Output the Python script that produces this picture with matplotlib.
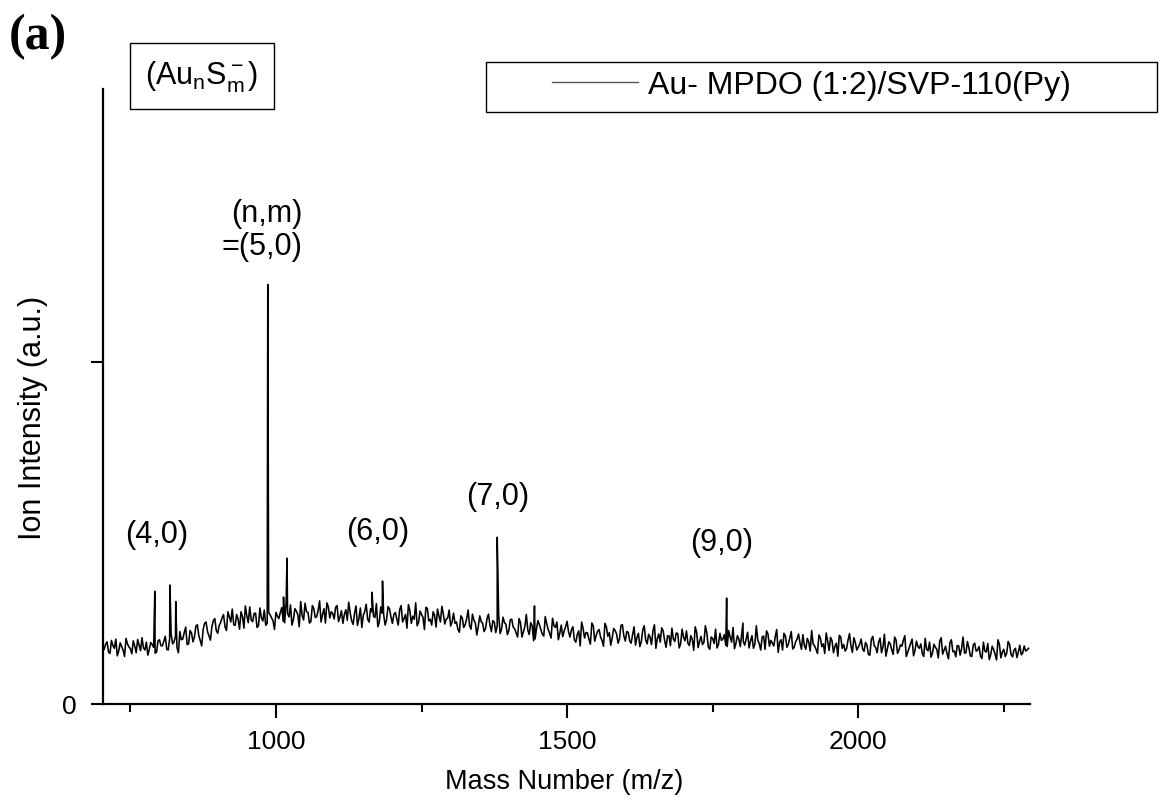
import numpy as np
import matplotlib
matplotlib.use("Agg")
import matplotlib.pyplot as plt
from matplotlib.patches import Rectangle

# spectrum, two sample grids (every 5 m/z, offset by 2.5)
grid_a_start, grid_b_start, grid_step = 705, 707.5, 5
intens_a = [
    160, 182, 148, 171, 190, 155, 168, 139, 176, 162, 185, 150, 172, 194, 158, 143, 180, 166, 152, 188,
    170, 198, 158, 205, 182, 165, 212, 190, 225, 176, 208, 196, 232, 185, 218, 240, 199, 226, 250, 207,
    238, 262, 215, 255, 278, 230, 248, 270, 222, 258, 284, 241, 266, 229, 252, 275, 236, 261, 244, 268,
    250, 282, 238, 265, 290, 247, 272, 226, 259, 295, 268, 241, 280, 256, 302, 262, 237, 284, 270, 249,
    288, 255, 236, 276, 298, 244, 265, 230, 281, 259, 292, 240, 270, 253, 226, 284, 262, 247, 279, 236,
    268, 231, 288, 250, 222, 274, 257, 296, 239, 262, 218, 280, 248, 270, 225, 257, 286, 234, 251, 228,
    266, 240, 210, 252, 232, 275, 219, 245, 202, 258, 236, 221, 263, 212, 240, 229, 206, 254, 233, 215,
    248, 220, 196, 238, 211, 262, 203, 229, 190, 244, 218, 199, 235, 207, 251, 224, 188, 231, 214, 242,
    196, 226, 181, 214, 240, 193, 208, 175, 229, 201, 218, 186, 236, 198, 172, 221, 205, 190, 232, 184,
    210, 178, 226, 195, 168, 217, 187, 204, 174, 232, 192, 181, 214, 166, 199, 222, 183, 206, 176, 196,
    214, 171, 189, 226, 165, 198, 180, 208, 160, 192, 219, 175, 186, 203, 168, 196, 224, 178, 190, 208,
    172, 210, 184, 163, 229, 177, 196, 160, 205, 186, 170, 218, 181, 158, 199, 175, 212, 166, 190, 179,
    203, 160, 182, 215, 170, 148, 193, 176, 208, 157, 185, 169, 140, 196, 174, 162, 206, 151, 180, 166,
    190, 154, 172, 143, 198, 165, 181, 150, 204, 161, 176, 145, 187, 158, 169, 200, 152, 177, 141, 184,
    163, 148, 192, 156, 137, 175, 160, 184, 146, 169, 132, 188, 155, 171, 143, 196, 150, 165, 139, 178,
    157, 140, 181, 152, 130, 169, 146, 188, 135, 160, 149, 174, 138, 163, 152, 144, 170, 158,
]
intens_b = [
    175, 152, 186, 163, 141, 179, 158, 192, 167, 147, 170, 189, 156, 164, 181, 160, 174, 149, 185, 171,
    184, 160, 192, 176, 198, 150, 188, 209, 174, 215, 182, 228, 201, 170, 236, 212, 187, 244, 215, 230,
    252, 226, 270, 240, 232, 262, 219, 256, 287, 238, 246, 265, 224, 281, 243, 230, 268, 252, 218, 257,
    268, 242, 296, 255, 231, 279, 262, 300, 246, 270, 237, 288, 253, 274, 240, 279, 296, 252, 265, 283,
    241, 273, 262, 245, 267, 233, 287, 250, 224, 271, 248, 279, 257, 294, 240, 266, 231, 285, 255, 262,
    249, 276, 240, 262, 291, 236, 248, 229, 272, 254, 283, 243, 231, 259, 278, 240, 263, 249, 275, 240,
    236, 219, 258, 224, 249, 230, 263, 237, 227, 241, 212, 250, 231, 244, 209, 261, 220, 238, 203, 247,
    225, 208, 250, 196, 227, 217, 238, 185, 221, 232, 204, 256, 218, 193, 229, 240, 207, 197, 226, 211,
    217, 188, 203, 170, 221, 209, 190, 237, 184, 213, 196, 169, 226, 209, 194, 215, 178, 230, 199, 212,
    185, 203, 172, 207, 183, 229, 176, 196, 214, 163, 205, 223, 186, 200, 171, 190, 208, 164, 219, 185,
    178, 200, 157, 210, 183, 174, 229, 167, 196, 177, 164, 207, 190, 172, 215, 181, 162, 200, 168, 184,
    190, 164, 200, 175, 187, 158, 199, 214, 169, 178, 197, 151, 188, 207, 166, 193, 161, 182, 205, 160,
    171, 192, 155, 176, 160, 202, 168, 148, 184, 195, 150, 178, 201, 163, 155, 187, 170, 194, 158, 175,
    161, 180, 145, 189, 171, 150, 193, 167, 140, 182, 159, 196, 148, 173, 186, 139, 164, 190, 157, 168,
    176, 139, 160, 181, 149, 166, 135, 194, 158, 147, 180, 153, 138, 170, 162, 149, 183, 141, 172, 155,
    168, 133, 155, 177, 144, 160, 129, 174, 152, 139, 183, 145, 158, 136, 172, 149, 155, 163,
]

# sharp cluster peaks
peak_mz = [792, 818, 828, 986, 1013, 1019, 1165, 1183, 1380, 1444, 1774, 1802]
peak_int = [330, 348, 300, 1228, 313, 427, 327, 360, 488, 287, 310, 237]

# peak labels
label_text = ["(4,0)", "(6,0)", "(7,0)", "(9,0)", "(n,m)\n=(5,0)"]
label_mz = [796, 1175, 1381, 1765, 976]
label_int = [497, 506, 608, 474, 1389]

series_name = "Au- MPDO (1:2)/SVP-110(Py)"

mz_a = grid_a_start + grid_step * np.arange(len(intens_a))
mz_b = grid_b_start + grid_step * np.arange(len(intens_b))
x = np.concatenate([mz_a, mz_b, peak_mz])
y = np.concatenate([intens_a, intens_b, peak_int])
order = np.argsort(x, kind="stable")
x, y = x[order], y[order]

plt.rcParams["font.family"] = ["Liberation Sans", "DejaVu Sans"]

fig = plt.figure(figsize=(11.71, 8.03), dpi=100)
ax = fig.add_axes([103 / 1171, 1 - 705 / 803, (1030 - 103) / 1171, (705 - 90) / 803])

ax.plot(x, y, color="black", lw=1.15, label=series_name)

ax.set_xlim(703, 2295)
ax.set_ylim(0, 1800)

ax.spines["top"].set_visible(False)
ax.spines["right"].set_visible(False)
ax.spines["left"].set_linewidth(1.6)
ax.spines["bottom"].set_linewidth(1.6)

ax.set_xticks([1000, 1500, 2000])
ax.set_xticks([750, 1250, 1750, 2250], minor=True)
ax.set_yticks([0, 1000])
ax.set_yticklabels(["0", ""])
ax.tick_params(axis="x", which="major", length=10, width=1.5, labelsize=19, pad=8)
ax.tick_params(axis="x", which="minor", length=6, width=1.5)
ax.tick_params(axis="y", length=9, width=1.5, labelsize=19, pad=10)

ax.set_xlabel("Mass Number (m/z)", fontsize=19.5, va="center")
ax.xaxis.set_label_coords((564 - 103) / 927, -(782 - 705) / 615)
ax.set_ylabel("Ion Intensity (a.u.)", fontsize=22, va="center")
ax.yaxis.set_label_coords((33 - 103) / 927, (705 - 418) / 615)

for t, px, py in zip(label_text, label_mz, label_int):
    ax.text(px, py, t, fontsize=22, ha="center", va="center", linespacing=1.15,
            multialignment="right")

# panel letter
fig.text(9 / 1171, 1 - 37 / 803, "(a)", fontsize=36, fontweight="bold",
         family="Liberation Serif", va="center", ha="left")

# species box
fig.text(202 / 1171, 1 - 77 / 803, r"(Au$\mathregular{_n}$S$\mathregular{_m^-}$)",
         fontsize=22, ha="center", va="center",
         bbox=dict(boxstyle="square,pad=0.5", fc="white", ec="black", lw=1.0))

# legend box
fig.patches.append(Rectangle((486 / 1171, 1 - 113 / 803), (1157 - 486) / 1171, 50 / 803,
                             transform=fig.transFigure, fill=False, ec="black", lw=1.0))
leg = ax.legend(loc="center left", bbox_to_anchor=(552 / 1171, 1 - 86 / 803),
                bbox_transform=fig.transFigure, frameon=False, fontsize=23,
                handlelength=2.7, handletextpad=0.3, borderpad=0, borderaxespad=0)
for h in leg.get_lines():
    h.set_color("#555555")
    h.set_linewidth(1.0)

fig.savefig("out.png", dpi=100)
